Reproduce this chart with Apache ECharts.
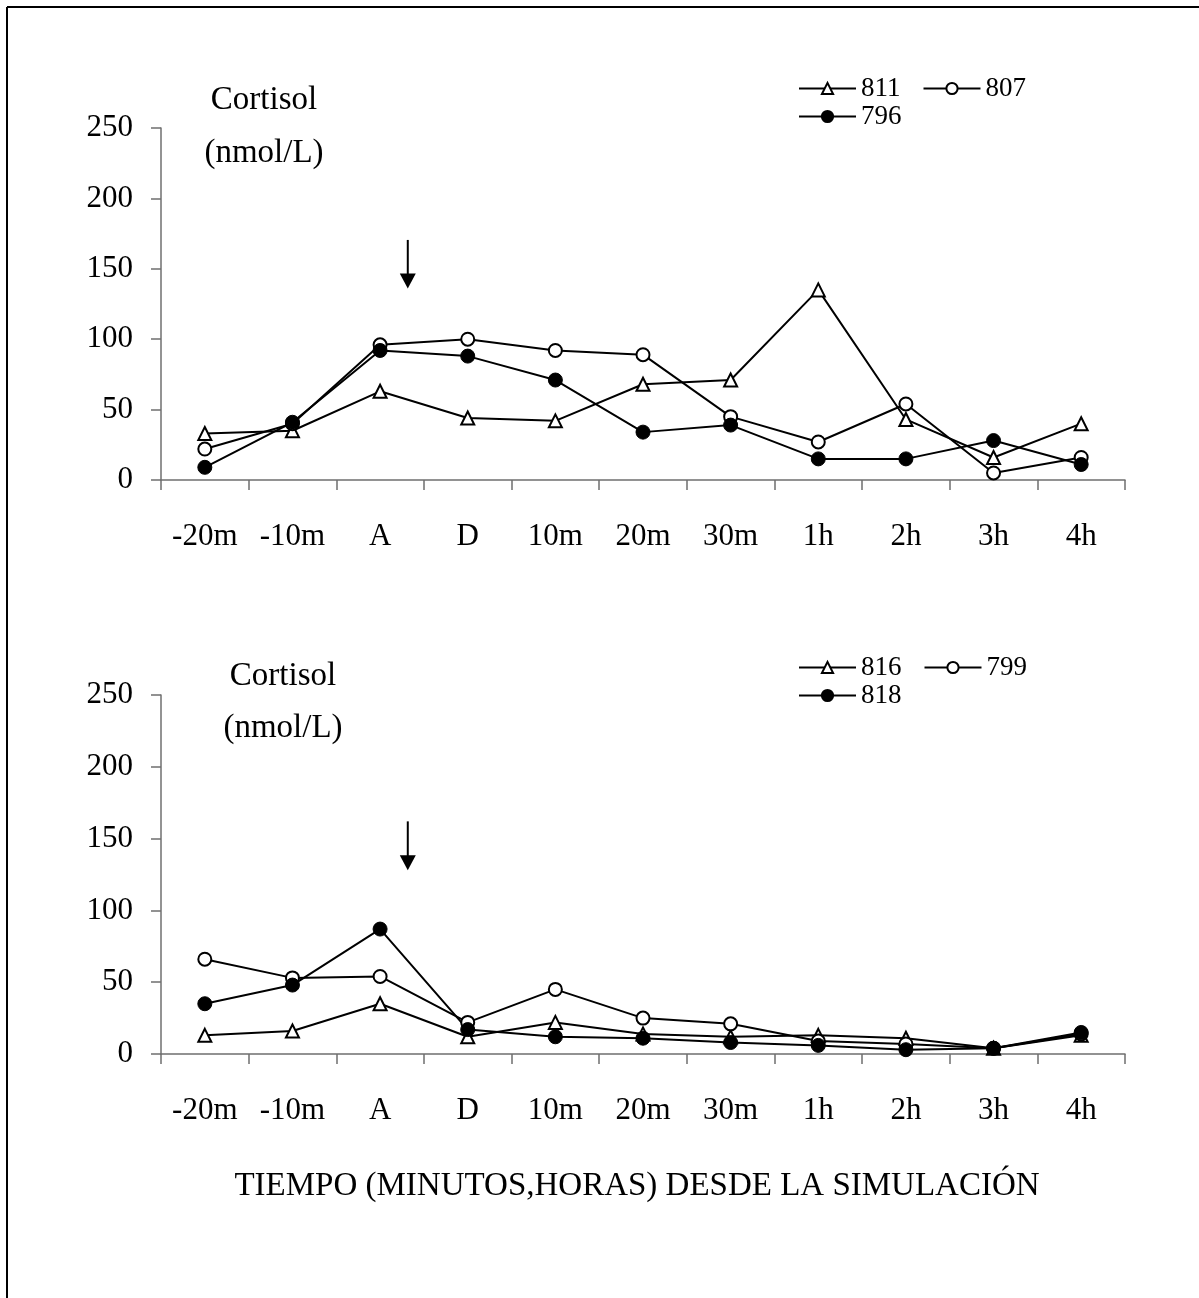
<!DOCTYPE html>
<html>
<head>
<meta charset="utf-8">
<title>Cortisol</title>
<script src="https://cdn.jsdelivr.net/npm/echarts@6/dist/echarts.min.js"></script>
<style>
  html, body { margin: 0; padding: 0; background: #fff; }
  #chart { width: 1199px; height: 1298px; }
</style>
</head>
<body>
<div id="chart"></div>
<script>
// Sampling times
const categories = ['-20m', '-10m', 'A', 'D', '10m', '20m', '30m', '1h', '2h', '3h', '4h'];
const yTicks = [0, 50, 100, 150, 200, 250];

// Upper panel: cortisol (nmol/L) per animal
const s811 = [33, 35, 63, 44, 42, 68, 71, 135, 43, 16, 40];
const s807 = [22, 40, 96, 100, 92, 89, 45, 27, 54, 5, 16];
const s796 = [9, 41, 92, 88, 71, 34, 39, 15, 15, 28, 11];

// Lower panel: cortisol (nmol/L) per animal
const s816 = [13, 16, 35, 12, 22, 14, 12, 13, 11, 4, 13];
const s799 = [66, 53, 54, 22, 45, 25, 21, 9, 7, 4, 14];
const s818 = [35, 48, 87, 17, 12, 11, 8, 6, 3, 4, 15];

const FONT = '"Liberation Serif", "Times New Roman", serif';
const AXIS_COLOR = '#6f6f6f';

const chart = echarts.init(document.getElementById('chart'), null, { renderer: 'canvas' });

function xAxis(gridIndex) {
  return {
    type: 'category', gridIndex, data: categories, boundaryGap: true,
    axisLine: { lineStyle: { color: AXIS_COLOR, width: 1.5 } },
    axisTick: { show: true, length: 10, interval: 0, lineStyle: { color: AXIS_COLOR, width: 1.5 } },
    axisLabel: { interval: 0, margin: 41, color: '#000', fontFamily: FONT, fontSize: 31 },
    splitLine: { show: false }
  };
}
function yAxis(gridIndex) {
  return {
    type: 'value', gridIndex, min: yTicks[0], max: yTicks[yTicks.length - 1], interval: 50,
    axisLine: { show: true, lineStyle: { color: AXIS_COLOR, width: 1.5 } },
    axisTick: { show: true, length: 10, lineStyle: { color: AXIS_COLOR, width: 1.5 } },
    axisLabel: { margin: 28, color: '#000', fontFamily: FONT, fontSize: 31 },
    splitLine: { show: false }
  };
}

const styles = {
  tri:    { symbol: 'triangle', symbolSize: 13, itemStyle: { color: '#fff', borderColor: '#000', borderWidth: 2 } },
  open:   { symbol: 'circle', symbolSize: 13, itemStyle: { color: '#fff', borderColor: '#000', borderWidth: 2 } },
  filled: { symbol: 'circle', symbolSize: 14, itemStyle: { color: '#000', borderColor: '#000', borderWidth: 1 } }
};

function line(name, data, idx, style) {
  return Object.assign({
    name, type: 'line', data, xAxisIndex: idx, yAxisIndex: idx,
    showAllSymbol: true,
    lineStyle: { color: '#000', width: 2 },
    emphasis: { disabled: true },
    z: 3
  }, style);
}

function legend(names, top) {
  return {
    data: names, left: 793, top, orient: 'horizontal',
    itemWidth: 57, itemHeight: 14, itemGap: 22,
    textStyle: { fontFamily: FONT, fontSize: 27, color: '#000' },
    selectedMode: false
  };
}

const option = {
  animation: false,
  backgroundColor: '#fff',
  grid: [
    { left: 161, top: 128, width: 964, height: 352 },
    { left: 161, top: 695, width: 964, height: 359 }
  ],
  xAxis: [xAxis(0), xAxis(1)],
  yAxis: [yAxis(0), yAxis(1)],
  legend: [
    legend(['811', '807'], 70),
    legend(['796'], 98),
    legend(['816', '799'], 649),
    legend(['818'], 677)
  ],
  series: [
    line('811', s811, 0, styles.tri),
    line('807', s807, 0, styles.open),
    line('796', s796, 0, styles.filled),
    line('816', s816, 1, styles.tri),
    line('799', s799, 1, styles.open),
    line('818', s818, 1, styles.filled)
  ]
};
chart.setOption(option);

// Downward arrow marking the simulation, placed between A and D
const arrows = [
  { grid: 0, frac: 0.316, from: 170.5, to: 136 },
  { grid: 1, frac: 0.316, from: 162, to: 128 }
];
const graphics = [];
arrows.forEach(a => {
  const pA = chart.convertToPixel({ gridIndex: a.grid }, ['A', a.from]);
  const pD = chart.convertToPixel({ gridIndex: a.grid }, ['D', a.from]);
  const tip = chart.convertToPixel({ gridIndex: a.grid }, ['A', a.to]);
  const x = pA[0] + a.frac * (pD[0] - pA[0]);
  const headLen = 15, headW = 8;
  graphics.push({
    type: 'line', shape: { x1: x, y1: pA[1], x2: x, y2: tip[1] - headLen + 1 },
    style: { stroke: '#000', lineWidth: 2 }, z: 10
  });
  graphics.push({
    type: 'polygon', shape: { points: [[x - headW, tip[1] - headLen], [x + headW, tip[1] - headLen], [x, tip[1]]] },
    style: { fill: '#000' }, z: 10
  });
});

// Axis titles
const txt = (text, x, y, size) => ({
  type: 'text', x, y,
  style: { text, fontFamily: FONT, fontSize: size, fill: '#000', align: 'center', verticalAlign: 'middle' },
  z: 10
});
graphics.push(txt('Cortisol', 264, 100, 33));
graphics.push(txt('(nmol/L)', 264, 153, 33));
graphics.push(txt('Cortisol', 283, 676, 33));
graphics.push(txt('(nmol/L)', 283, 728, 33));
graphics.push(txt('TIEMPO (MINUTOS,HORAS) DESDE LA SIMULACIÓN', 637, 1186, 33));

// Frame around the figure (left and top edges)
graphics.push({ type: 'line', shape: { x1: 7, y1: 7, x2: 1199, y2: 7 }, style: { stroke: '#000', lineWidth: 2 }, z: 10 });
graphics.push({ type: 'line', shape: { x1: 7, y1: 7, x2: 7, y2: 1298 }, style: { stroke: '#000', lineWidth: 2 }, z: 10 });

chart.setOption({ graphic: graphics });
</script>
</body>
</html>
